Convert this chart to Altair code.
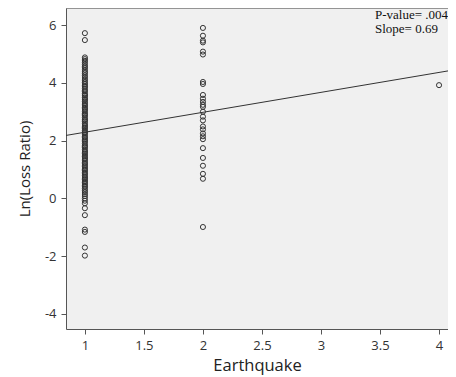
import altair as alt
import pandas as pd

# Data
eq_1 = [5.72, 5.48, 4.88, 4.82, 4.76, 4.7, 4.63, 4.57, 4.52, 4.45, 4.38, 4.33, 4.26, 4.2, 4.13,
        4.07, 4.01, 3.96, 3.9, 3.86, 3.8, 3.74, 3.7, 3.63, 3.58, 3.55, 3.49, 3.44, 3.41, 3.35,
        3.3, 3.24, 3.2, 3.14, 3.1, 3.06, 3.0, 2.94, 2.9, 2.86, 2.8, 2.74, 2.71, 2.66, 2.6, 2.54,
        2.5, 2.45, 2.41, 2.35, 2.3, 2.26, 2.2, 2.14, 2.1, 2.05, 2.0, 1.96, 1.9, 1.84, 1.8, 1.76,
        1.7, 1.64, 1.6, 1.55, 1.5, 1.45, 1.4, 1.36, 1.3, 1.24, 1.2, 1.15, 1.1, 1.05, 1.0, 0.96,
        0.9, 0.85, 0.8, 0.74, 0.7, 0.65, 0.6, 0.55, 0.5, 0.44, 0.4, 0.34, 0.28, 0.22, 0.15,
        0.08, 0.0, -0.08, -0.17, -0.34, -0.58, -1.08, -1.16, -1.7, -1.98]
eq_2 = [5.9, 5.63, 5.46, 5.4, 5.08, 4.98, 4.03, 3.96, 3.58, 3.45, 3.34, 3.24, 3.17, 3.0, 2.83,
        2.7, 2.49, 2.39, 2.25, 2.15, 2.05, 1.74, 1.4, 1.13, 0.85, 0.68, -0.99]
eq_4 = [3.92]

fit_intercept = 1.60
fit_slope = 0.69
x_domain = [0.84, 4.076]
y_domain = [-4.52, 6.59]
annotations = ["P-value= .004", "Slope= 0.69"]

pts = pd.DataFrame(
    {"Earthquake": [1] * len(eq_1) + [2] * len(eq_2) + [4] * len(eq_4),
     "LnLoss": eq_1 + eq_2 + eq_4}
)
fit = pd.DataFrame({"Earthquake": x_domain,
                    "LnLoss": [fit_intercept + fit_slope * v for v in x_domain]})

axis_common = dict(
    domainColor="#555555", tickColor="#555555", labelColor="#333333",
    titleColor="#222222", labelFont="Open Sans", titleFont="Open Sans",
    labelFontSize=13, titleFontWeight="normal",
    grid=False, tickSize=5, labelExpr="'' + datum.value",
)

xs = alt.Scale(domain=x_domain, nice=False, zero=False)
ys = alt.Scale(domain=y_domain, nice=False, zero=False)

points = alt.Chart(pts).mark_point(
    shape="circle", filled=False, size=26, strokeWidth=1, color="#333333", opacity=1
).encode(
    x=alt.X("Earthquake:Q", scale=xs,
            axis=alt.Axis(values=[1, 1.5, 2, 2.5, 3, 3.5, 4], title="Earthquake",
                          titleFontSize=16.5, labelPadding=5, titlePadding=5, **axis_common)),
    y=alt.Y("LnLoss:Q", scale=ys,
            axis=alt.Axis(values=[-4, -2, 0, 2, 4, 6], title="Ln(Loss Ratio)",
                          titleFontSize=15, labelPadding=5, titlePadding=12, **axis_common)),
)

line = alt.Chart(fit).mark_line(color="#333333", strokeWidth=1).encode(
    x=alt.X("Earthquake:Q", scale=xs), y=alt.Y("LnLoss:Q", scale=ys)
)

top_border = alt.Chart(fit).mark_rule(color="#777777", strokeWidth=1).encode(
    x=alt.value(0), x2=alt.value(382), y=alt.value(0)
)

text_layers = []
for i, t in enumerate(annotations):
    text_layers.append(
        alt.Chart(pd.DataFrame({"text": [t]})).mark_text(
            align="left", baseline="middle", font="Liberation Serif", fontSize=13,
            color="#111111"
        ).encode(x=alt.value(309), y=alt.value(7 + 14 * i), text="text:N")
    )

chart = alt.layer(points, line, top_border, *text_layers).properties(
    width=382, height=321,
    autosize=alt.AutoSizeParams(type="none"),
    padding={"left": 58, "top": 0, "right": 0, "bottom": 48},
    background="white",
).configure_view(fill="#f0f0f0", stroke=None)

chart.save("out.html", embed_options={"renderer": "svg", "actions": False})
